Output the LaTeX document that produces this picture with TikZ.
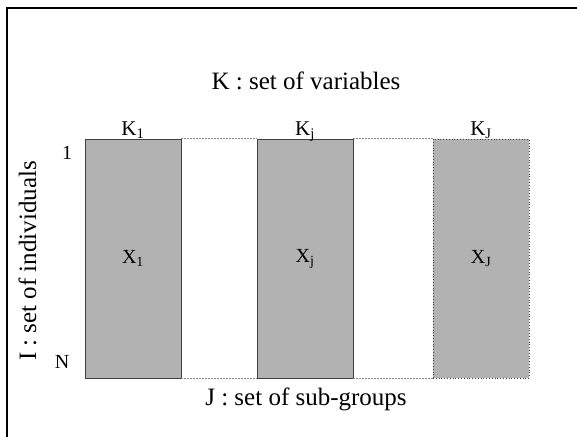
\documentclass[tikz,border=0pt]{standalone}
\usepackage{fontspec}
\setmainfont{Liberation Serif}
\begin{document}
\begin{tikzpicture}[x=1pt,y=-1pt,
  block/.style={draw=black!75,line width=0.8pt,fill=black!30,minimum width=96pt,minimum height=239pt,inner sep=0pt,font=\fontsize{20}{23}\selectfont},
  dotblock/.style={block,dotted},
  link/.style={draw=black!45,dashed,dash pattern=on 2pt off 1pt,line width=0.6pt},
  big/.style={font=\fontsize{25}{29}\selectfont,inner sep=0pt},
  klab/.style={font=\fontsize{21}{25}\selectfont,inner sep=0pt,anchor=base},
  idx/.style={font=\fontsize{20}{23}\selectfont,inner sep=0pt}]
\useasboundingbox (0,0) rectangle (577,436);
\draw[line width=1.6pt] (7,445) -- (7,8) -- (590,8);
\node[block] (x1) at (133,258.5) {X\textsubscript{1}};
\node[block] (xj) at (305,258.5) {X\textsubscript{j}};
\node[dotblock] (xJ) at (481,258.5) {X\textsubscript{J}};
\draw[link] (x1.north east) -- (xj.north west);
\draw[link] (xj.north east) -- (xJ.north west);
\draw[link] (x1.south east) -- (xj.south west);
\draw[link] (xj.south east) -- (xJ.south west);
\node[klab] (k1) at (133,135) {K\textsubscript{1}};
\node[klab] (kj) at (305,135) {K\textsubscript{j}};
\node[klab] (kJ) at (481,135) {K\textsubscript{J}};
\node[big,anchor=base] (kt) at (306,89) {K : set of variables};
\node[big,anchor=base] (jt) at (306,405) {J : set of sub-groups};
\node[big,rotate=90] (it) at (27.5,261) {I : set of individuals};
\node[idx] (one) at (67,153) {1};
\node[idx] (n) at (62,362) {N};
\end{tikzpicture}
\end{document}
